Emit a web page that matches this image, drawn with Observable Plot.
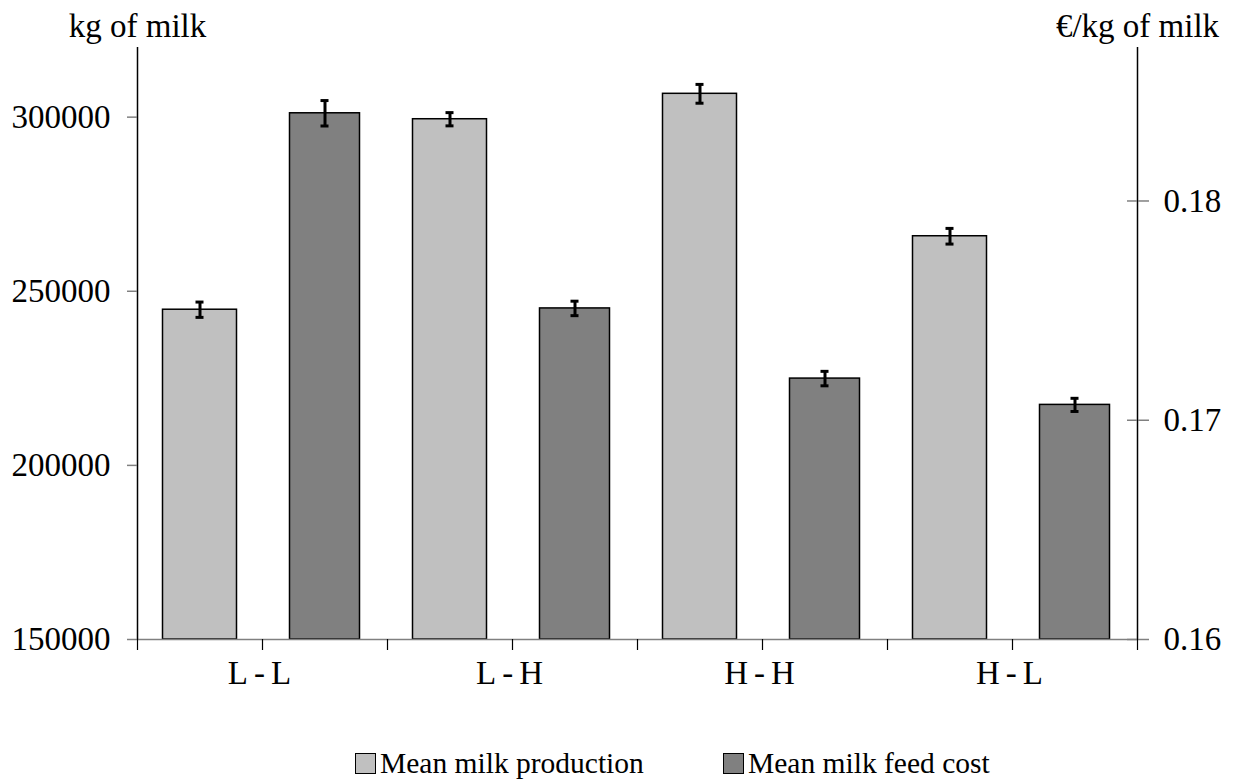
<!DOCTYPE html>
<html>
<head>
<meta charset="utf-8">
<script src="https://cdn.jsdelivr.net/npm/d3@7"></script>
<script src="https://cdn.jsdelivr.net/npm/@observablehq/plot@0.6"></script>
<style>
  html, body { margin: 0; padding: 0; background: #fff; }
  #wrap { position: relative; width: 1236px; height: 781px; font-family: "Liberation Serif", "Times New Roman", serif; }
  #legend { position: relative; height: 51px; font-size: 29.5px; color: #000; }
  .item { position: absolute; top: 22px; height: 22px; display: flex; align-items: center; }
  .sw { width: 19px; height: 19px; border: 1px solid #000; margin-right: 4px; }
  .xlab text { letter-spacing: 6px; }
</style>
</head>
<body>
<div id="wrap"><div id="chart"></div><div id="legend"></div></div>
<script>
// ---- data ----
const categories = ["L-L", "L-H", "H-H", "H-L"];
const production = [244700, 299400, 306700, 265800];      // kg of milk
const productionErr = [2200, 1900, 2700, 2250];
const feedCost = [0.1840, 0.1751, 0.1719, 0.1707];       // €/kg of milk
const feedCostErr = [0.00058, 0.00033, 0.00033, 0.00030];
const leftTicks = [150000, 200000, 250000, 300000];
const rightTicks = [0.16, 0.17, 0.18];
const seriesNames = ["Mean milk production", "Mean milk feed cost"];
const seriesColors = ["#c0c0c0", "#808080"];

// ---- scales ----
const leftDomain = [150000, 320000];
const rightDomain = [0.16, 0.187];
const toLeft = d3.scaleLinear(rightDomain, leftDomain);
const xMax = categories.length;

const prodData = categories.map((c, i) => ({
  cat: c, pos: i + 0.25, v: production[i], lo: production[i] - productionErr[i], hi: production[i] + productionErr[i]
}));
const costData = categories.map((c, i) => ({
  cat: c, pos: i + 0.75, v: toLeft(feedCost[i]), lo: toLeft(feedCost[i] - feedCostErr[i]), hi: toLeft(feedCost[i] + feedCostErr[i])
}));

const FONT = "Liberation Serif, Times New Roman, serif";

const chart = Plot.plot({
  width: 1236,
  height: 730,
  marginTop: 47,
  marginBottom: 91,
  marginLeft: 137,
  marginRight: 99,
  style: { fontFamily: FONT, background: "#fff", color: "#000" },
  x: { type: "linear", domain: [0, xMax], axis: null, label: null },
  y: { domain: leftDomain, axis: null, label: null },
  marks: [
    // bars
    Plot.rectY(prodData, { x1: "pos", x2: "pos", y1: leftDomain[0], y2: "v", insetLeft: -37, insetRight: -37, fill: seriesColors[0], stroke: "#000", strokeWidth: 1.5 }),
    Plot.rectY(costData, { x1: "pos", x2: "pos", y1: leftDomain[0], y2: "v", insetLeft: -35, insetRight: -35, fill: seriesColors[1], stroke: "#000", strokeWidth: 1.5 }),
    // error bars
    Plot.ruleX(prodData, { x: "pos", y1: "lo", y2: "hi", stroke: "#000", strokeWidth: 3 }),
    Plot.ruleY(prodData, { y: "lo", x1: "pos", x2: "pos", insetLeft: -4, insetRight: -4, stroke: "#000", strokeWidth: 3 }),
    Plot.ruleY(prodData, { y: "hi", x1: "pos", x2: "pos", insetLeft: -4, insetRight: -4, stroke: "#000", strokeWidth: 3 }),
    Plot.ruleX(costData, { x: "pos", y1: "lo", y2: "hi", stroke: "#000", strokeWidth: 3 }),
    Plot.ruleY(costData, { y: "lo", x1: "pos", x2: "pos", insetLeft: -4, insetRight: -4, stroke: "#000", strokeWidth: 3 }),
    Plot.ruleY(costData, { y: "hi", x1: "pos", x2: "pos", insetLeft: -4, insetRight: -4, stroke: "#000", strokeWidth: 3 }),
    // baseline
    Plot.ruleY([leftDomain[0]], { stroke: "#808080", strokeWidth: 1.5 }),
    // axis lines
    Plot.ruleX([0, xMax], { stroke: "#000", strokeWidth: 1.5 }),
    // left axis
    Plot.axisY(leftTicks, { anchor: "left", label: null, tickSize: 10, tickPadding: 17, tickFormat: d => String(d), fontSize: 33, stroke: "#808080", fill: "#000", strokeWidth: 1.5 }),
    // right axis (outer + inner ticks)
    Plot.axisY(rightTicks.map(toLeft), { anchor: "right", label: null, tickSize: 11, tickPadding: 15, tickFormat: d => toLeft.invert(d).toFixed(2), fontSize: 33, stroke: "#808080", fill: "#000", strokeWidth: 1.5 }),
    Plot.ruleY(rightTicks.map(toLeft), { x1: xMax, x2: xMax, insetLeft: -10, stroke: "#808080", strokeWidth: 1.5 }),
    // x axis
    Plot.axisX(d3.range(0, xMax + 0.001, 0.5), { anchor: "bottom", label: null, tickSize: 11, tickPadding: 10, tickFormat: d => Number.isInteger(d) ? "" : categories[Math.floor(d)], fontSize: 33, className: "xlab", stroke: "#000", fill: "#000", strokeWidth: 1.2 }),
    // axis titles
    Plot.text(["kg of milk"], { frameAnchor: "top-left", dy: -11, lineAnchor: "bottom", textAnchor: "middle", fontSize: 33, fill: "#000" }),
    Plot.text(["€/kg of milk"], { frameAnchor: "top-right", dy: -11, lineAnchor: "bottom", textAnchor: "middle", fontSize: 33, fill: "#000" })
  ]
});
document.getElementById("chart").appendChild(chart);

// legend
const legend = document.getElementById("legend");
const legendLeft = [355, 723];
seriesNames.forEach((name, i) => {
  const item = document.createElement("div");
  item.className = "item";
  item.style.left = legendLeft[i] + "px";
  const sw = document.createElement("div");
  sw.className = "sw";
  sw.style.background = seriesColors[i];
  const t = document.createElement("span");
  t.textContent = name;
  item.appendChild(sw);
  item.appendChild(t);
  legend.appendChild(item);
});
</script>
</body>
</html>
